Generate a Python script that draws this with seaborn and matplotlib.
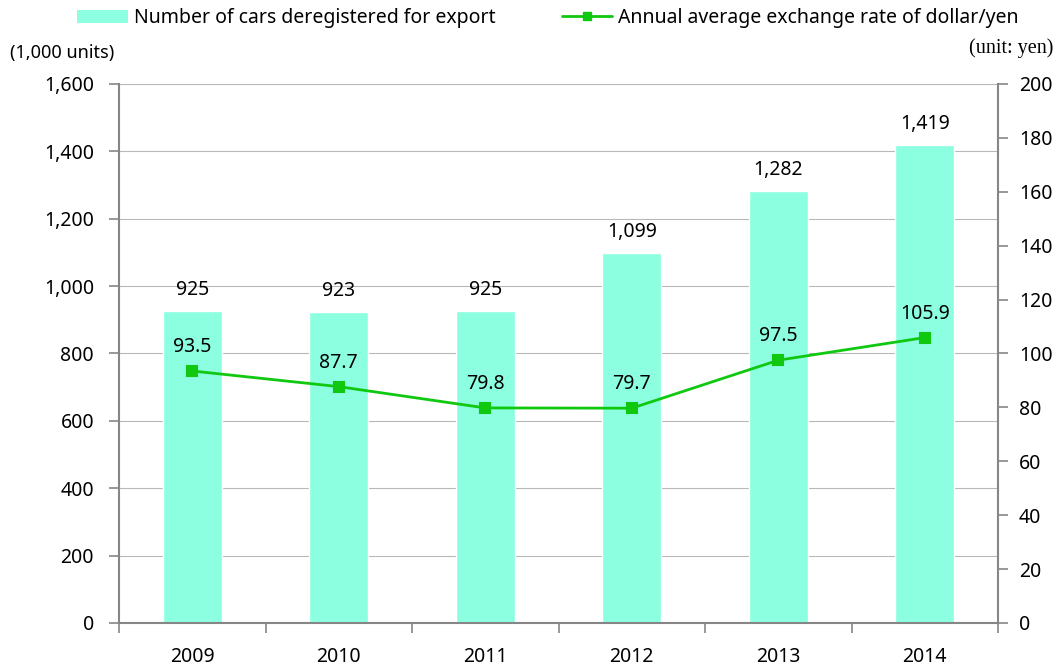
import matplotlib.pyplot as plt
import seaborn as sns
from matplotlib.patches import Patch
from matplotlib.lines import Line2D

years = ['2009', '2010', '2011', '2012', '2013', '2014']
cars = [925, 923, 925, 1099, 1282, 1419]
rates = [93.5, 87.7, 79.8, 79.7, 97.5, 105.9]
bar_labels = ['925', '923', '925', '1,099', '1,282', '1,419']

bar_color = '#8BFFE0'
line_color = '#11C811'
spine_color = '#868686'

sns.set_style('white')
plt.rcParams['font.family'] = ['Noto Sans', 'DejaVu Sans']
plt.rcParams['text.color'] = 'black'
plt.rcParams['xtick.labelcolor'] = 'black'
plt.rcParams['ytick.labelcolor'] = 'black'

fig = plt.figure(figsize=(10.58, 6.65), dpi=100)
ax = fig.add_axes([0.1125, 0.0632, 0.8308, 0.8105])

sns.barplot(x=years, y=cars, color=bar_color, width=0.4, saturation=1, ax=ax, zorder=2)
ax.set_ylim(0, 1600)
ax.set_yticks(range(0, 1601, 200))
ax.set_yticklabels([f'{v:,}' for v in range(0, 1601, 200)])
ax.yaxis.grid(True, color='#B8B8B8', linewidth=0.8)
ax.set_axisbelow(True)

for i, (v, lab) in enumerate(zip(cars, bar_labels)):
    ax.annotate(lab, (i, v), xytext=(0, 8), textcoords='offset points',
                ha='center', va='bottom', fontsize=14)

ax2 = ax.twinx()
sns.pointplot(x=years, y=rates, ax=ax2, color=line_color, markers='s',
              errorbar=None, markersize=7, linewidth=2)
ax2.set_ylim(0, 200)
ax2.set_yticks(range(0, 201, 20))

for i, v in enumerate(rates):
    ax2.annotate(f'{v}', (i, v), xytext=(0, 10), textcoords='offset points',
                 ha='center', va='bottom', fontsize=14)

ax.set_xlim(-0.5, 5.5)
ax.set_xlabel('')
ax.set_ylabel('')
ax2.set_ylabel('')

for a in (ax, ax2):
    for s in ['top', 'left', 'right', 'bottom']:
        a.spines[s].set_visible(False)
ax.spines['left'].set_visible(True)
ax.spines['bottom'].set_visible(True)
ax2.spines['right'].set_visible(True)
for s in ['left', 'bottom']:
    ax.spines[s].set_color(spine_color)
    ax.spines[s].set_linewidth(1.5)
ax2.spines['right'].set_color(spine_color)
ax2.spines['right'].set_linewidth(1.5)

ax.tick_params(axis='y', direction='out', length=7, width=1.2, color=spine_color,
               labelsize=14, pad=11, left=True)
ax2.tick_params(axis='y', direction='out', length=7, width=1.2, color=spine_color,
                labelsize=14, pad=8, right=True)
ax.set_xticks([x - 0.5 for x in range(7)], minor=True)
ax.tick_params(axis='x', which='major', length=0, labelsize=14, pad=17)
ax.tick_params(axis='x', which='minor', direction='out', length=7, width=1.2,
               color=spine_color, bottom=True)

fig.text(0.009, 0.921, '(1,000 units)', fontsize=13, ha='left', va='center')
fig.text(0.996, 0.928, '(unit: yen)', fontsize=14.5, ha='right', va='center',
         family='Liberation Serif')

handles = [Patch(facecolor=bar_color, edgecolor='none'),
           Line2D([], [], color=line_color, marker='s', markersize=6, linewidth=2)]
fig.legend(handles, ['Number of cars deregistered for export',
                     'Annual average exchange rate of dollar/yen'],
           loc='upper center', bbox_to_anchor=(0.518, 1.014), ncol=2, frameon=False,
           fontsize=14, handlelength=2.6, handletextpad=0.3, columnspacing=3.4)

fig.savefig('out.png', dpi=100)
